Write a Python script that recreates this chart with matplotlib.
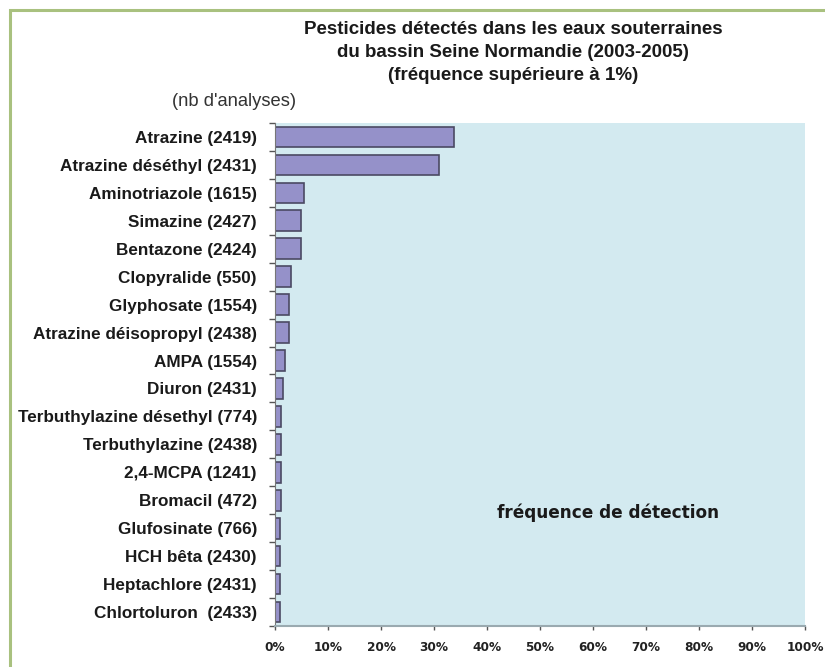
import matplotlib
matplotlib.use("Agg")
import matplotlib.pyplot as plt
from matplotlib.patches import Rectangle
import numpy as np

categories = [
    "Atrazine (2419)", "Atrazine déséthyl (2431)", "Aminotriazole (1615)",
    "Simazine (2427)", "Bentazone (2424)", "Clopyralide (550)",
    "Glyphosate (1554)", "Atrazine déisopropyl (2438)", "AMPA (1554)",
    "Diuron (2431)", "Terbuthylazine désethyl (774)", "Terbuthylazine (2438)",
    "2,4-MCPA (1241)", "Bromacil (472)", "Glufosinate (766)",
    "HCH bêta (2430)", "Heptachlore (2431)", "Chlortoluron  (2433)",
]
frequencies = [33.8, 30.9, 5.5, 4.9, 4.9, 3.0, 2.6, 2.6, 1.8, 1.6, 1.2, 1.1,
               1.1, 1.1, 1.0, 1.0, 1.0, 1.0]
xticks = [0, 10, 20, 30, 40, 50, 60, 70, 80, 90, 100]
xtick_labels = [f"{v}%" for v in xticks]

W, H = 825, 667
fig = plt.figure(figsize=(W / 100, H / 100), dpi=100)
fig.patch.set_facecolor("white")

# green frame
fig.add_artist(Rectangle((10 / W, -0.05), 1.2, 1 - 10 / H + 0.05,
                         transform=fig.transFigure, fill=False,
                         edgecolor="#a9c17f", linewidth=2.2))

ax = fig.add_axes([275 / W, 1 - 626 / H, (805 - 275) / W, (626 - 123) / H])
ax.set_facecolor("#d3eaf0")

y = np.arange(len(categories))
ax.barh(y, frequencies, height=0.74, color="#9591c9", edgecolor="#4b4a63",
        linewidth=1.2)
ax.set_ylim(len(categories) - 0.5, -0.5)
ax.set_xlim(0, 100)

ax.set_yticks(y)
ax.set_yticklabels(categories, fontfamily="Liberation Sans", fontweight="bold",
                   fontsize=12.3, color="#1a1a1a")
ax.tick_params(axis="y", which="major", length=0, pad=13)
ax.set_yticks(np.arange(-0.5, len(categories), 1.0), minor=True)
ax.tick_params(axis="y", which="minor", length=4, color="#555555", width=1)

ax.set_xticks(xticks)
ax.set_xticklabels(xtick_labels, fontfamily="DejaVu Sans", fontweight="bold",
                   fontsize=8.7, color="#222222")
ax.tick_params(axis="x", length=3, color="#555555", width=1, pad=8)

for s in ["top", "right"]:
    ax.spines[s].set_visible(False)
ax.spines["left"].set_color("#777777")
ax.spines["bottom"].set_color("#9aaab0")
ax.spines["bottom"].set_linewidth(1.5)

title_lines = [
    "Pesticides détectés dans les eaux souterraines",
    "du bassin Seine Normandie (2003-2005)",
    "(fréquence supérieure à 1%)",
]
for i, line in enumerate(title_lines):
    fig.text(513 / W, 1 - (30 + 22.5 * i) / H, line, ha="center", va="center",
             fontfamily="Liberation Sans", fontweight="bold", fontsize=13.5,
             color="#1a1a1a")

fig.text(172 / W, 1 - 102 / H, "(nb d'analyses)", ha="left", va="center",
         fontfamily="Liberation Sans", fontsize=13.2, color="#333333")

ax.text(0.418, 0.225, "fréquence de détection", transform=ax.transAxes,
        ha="left", va="center", fontfamily="DejaVu Sans", fontweight="bold",
        fontsize=12.2, color="#1a1a1a")

fig.savefig("out.png", dpi=100)
